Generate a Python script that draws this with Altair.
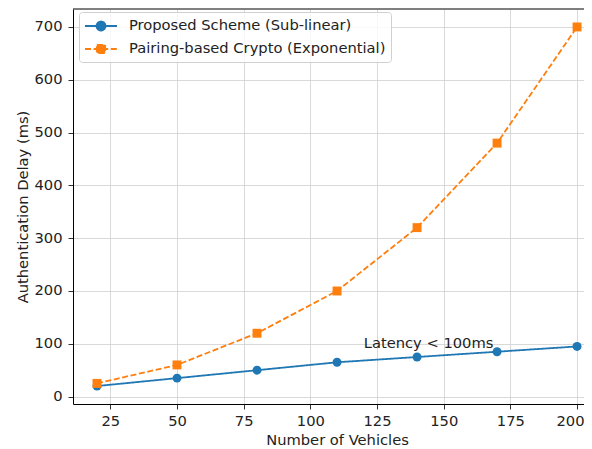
import altair as alt
import pandas as pd

vehicles = [20, 50, 80, 110, 140, 170, 200]
proposed = [20, 35, 50, 65, 75, 85, 95]
pairing = [25, 60, 120, 200, 320, 480, 700]
series_names = ["Proposed Scheme (Sub-linear)", "Pairing-based Crypto (Exponential)"]
colors = ["#1f77b4", "#ff7f0e"]
x_ticks = [25, 50, 75, 100, 125, 150, 175, 200]
y_ticks = [0, 100, 200, 300, 400, 500, 600, 700]
annot_x = [120]
annot_y = [100]
annot_text = ["Latency < 100ms"]

rows = []
for name, vals in zip(series_names, [proposed, pairing]):
    for xv, yv in zip(vehicles, vals):
        rows.append({"x": xv, "y": yv, "series": name})
df = pd.DataFrame(rows)
ann = pd.DataFrame({"x": annot_x, "y": annot_y, "t": annot_text})

FONT = "DejaVu Sans"
FS = 14.7
LW = 1.8
DASH = [6, 2.6]
xs = alt.Scale(domain=[11, 202.6], nice=False, zero=False)
ys = alt.Scale(domain=[-14, 734], nice=False, zero=False)
last_tick = "datum.value == 200"
X = alt.X("x:Q", scale=xs, title="Number of Vehicles",
          axis=alt.Axis(
              values=x_ticks, titleX=264,
              labelAlign={"condition": {"test": last_tick, "value": "right"}, "value": "center"},
              labelOffset={"condition": {"test": last_tick, "value": 7}, "value": 0},
          ))
Y = alt.Y("y:Q", scale=ys, title="Authentication Delay (ms)",
          axis=alt.Axis(values=y_ticks))

base = alt.Chart(df)

def series_layers(name, color, shape, dash):
    sub = base.transform_filter(alt.datum.series == name)
    line = sub.mark_line(strokeWidth=LW, color=color, strokeDash=dash).encode(x=X, y=Y)
    pts = sub.mark_point(filled=True, shape=shape, size=80, opacity=1, color=color).encode(x=X, y=Y)
    return [line, pts]

# legend handle: line segment with a marker in its middle
circle_path = "M-1,0H3M0.44,0A0.56,0.56,0,1,0,1.56,0A0.56,0.56,0,1,0,0.44,0Z"
square_path = "M-1,0H3M0.48,-0.52H1.52V0.52H0.48Z"

legend = alt.Legend(
    orient="none", legendX=6, legendY=3, title=None,
    fillColor="rgba(255,255,255,0.8)", strokeColor="#d0d0d0", cornerRadius=3,
    padding=5, labelFont=FONT, labelFontSize=FS, labelColor="#222", labelLimit=400,
    symbolSize=256, symbolStrokeWidth=LW, labelOffset=27, rowPadding=5,
)

legend_layer = base.transform_filter("false").mark_point(
    filled=True, strokeWidth=LW, opacity=1
).encode(
    x=X, y=Y,
    fill=alt.Fill("series:N", scale=alt.Scale(domain=series_names, range=colors), legend=legend),
    stroke=alt.Stroke("series:N", scale=alt.Scale(domain=series_names, range=colors), legend=legend),
    shape=alt.Shape("series:N", scale=alt.Scale(domain=series_names, range=[circle_path, square_path]), legend=legend),
    strokeDash=alt.StrokeDash("series:N", scale=alt.Scale(domain=series_names, range=[[1, 0], DASH]), legend=legend),
)

text = alt.Chart(ann).mark_text(
    align="left", baseline="middle", font=FONT, fontSize=FS, color="#222"
).encode(x=alt.X("x:Q", scale=xs), y=alt.Y("y:Q", scale=ys), text="t:N")

top_border = alt.Chart(ann).mark_rule(color="#000", strokeWidth=1).encode(
    x=alt.value(0), x2=alt.value(511), y=alt.value(0)
)

layers = (series_layers(series_names[0], colors[0], "circle", [1, 0])
          + series_layers(series_names[1], colors[1], "square", DASH))
chart = alt.layer(*layers, text, top_border, legend_layer).properties(
    width=511, height=395,
    autosize=alt.AutoSizeParams(type="none"),
    padding={"left": 65, "top": 1, "right": 0, "bottom": 45},
).configure_view(
    stroke=None
).configure_axis(
    grid=True, gridColor="#cfcfcf", gridWidth=0.8,
    domain=True, domainColor="#000", domainWidth=1,
    tickColor="#000", tickWidth=0.8, tickSize=5,
    labelFont=FONT, labelFontSize=FS, labelColor="#222",
    titleFont=FONT, titleFontSize=FS, titleFontWeight="normal", titleColor="#222",
).configure_axisY(titlePadding=3, labelPadding=6).configure_axisX(titlePadding=5, labelPadding=4)

chart.save("out.html", embed_options={"renderer": "svg", "actions": False})
